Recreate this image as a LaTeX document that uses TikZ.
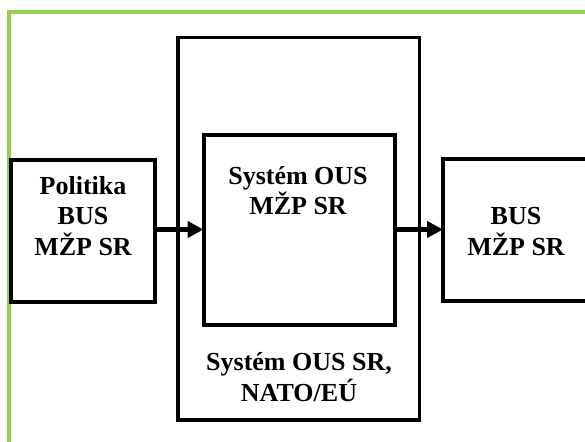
\documentclass[tikz,border=0pt]{standalone}
\usepackage{fontspec}
\setmainfont{Liberation Serif}
\usetikzlibrary{arrows.meta}
\definecolor{framegreen}{HTML}{92D050}
\tikzset{
  boxstyle/.style={draw=black, line width=4pt, fill=none, outer sep=0pt, inner sep=0pt},
  labelstyle/.style={align=center, inner sep=0pt, outer sep=0pt, anchor=north,
     font=\fontsize{26}{30.5}\selectfont\bfseries},
  flow/.style={line width=5pt, -{Triangle[length=16pt,width=16pt]}}
}
\begin{document}
\begin{tikzpicture}[x=1pt,y=-1pt]
\useasboundingbox (0,0) rectangle (585,441);
\clip (0,0) rectangle (585,441);
\fill[white] (0,0) rectangle (585,441);
% green frame (right and bottom sides lie outside the picture)
\draw[framegreen, line width=4pt] (9,470) -- (9,12) -- (620,12);
% boxes
\node[boxstyle, line width=3.5pt, minimum width=241.5pt, minimum height=382.5pt] (O) at (298.75,228.75) {};
\node[boxstyle, minimum width=191.5pt, minimum height=190pt] (I) at (299.25,229.5) {};
\node[boxstyle, minimum width=143.7pt, minimum height=142pt] (L) at (83.2,230.5) {};
\node[boxstyle, minimum width=152pt, minimum height=142.6pt] (R) at (519,230) {};
% texts
\node[labelstyle] (Ltext) at (83,176) {Politika\\BUS\\MŽP SR};
\node[labelstyle] (Itext) at (298,166) {Systém OUS\\MŽP SR};
\node[labelstyle] (Rtext) at (516,207.5) {BUS\\MŽP SR};
\node[labelstyle] (Otext) at (299,352.5) {Systém OUS SR,\\NATO/EÚ};
% arrows
\draw[flow] (L.east |- 0,229.5) -- (I.west |- 0,229.5);
\draw[flow] (I.east |- 0,229.5) -- (R.west |- 0,229.5);
\end{tikzpicture}
\end{document}
